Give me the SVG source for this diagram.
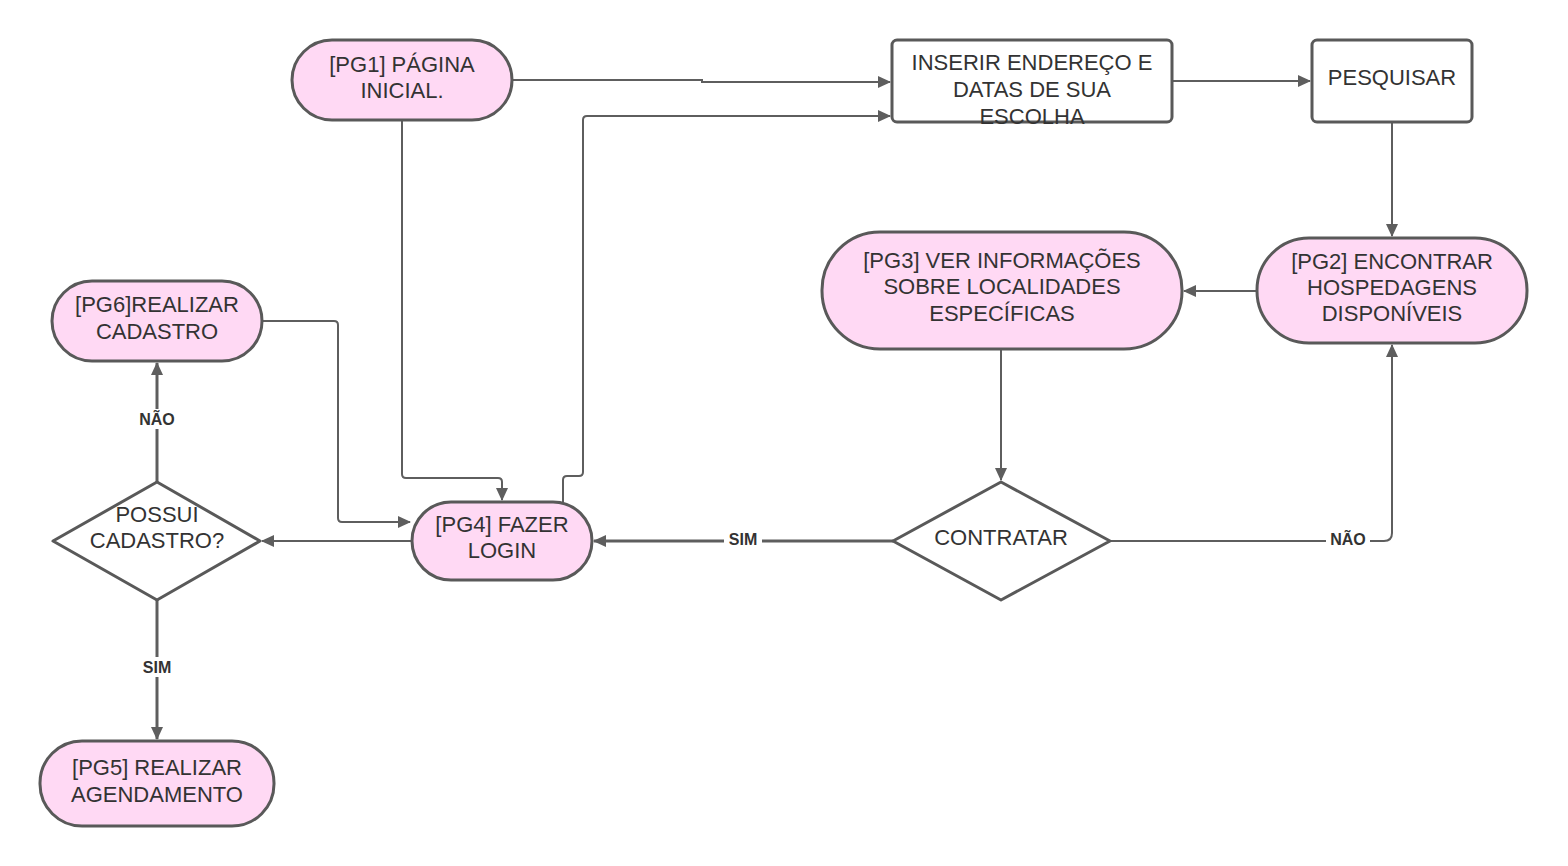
<svg xmlns="http://www.w3.org/2000/svg" width="1568" height="866" viewBox="0 0 1568 866">
<style>
.pill{fill:#ffd9f4;stroke:#595959;stroke-width:3}
.box{fill:#ffffff;stroke:#595959;stroke-width:3}
.t{font-family:"Liberation Sans",Arial,sans-serif;font-size:22px;fill:#333333;text-anchor:middle}
.c{fill:none;stroke:#5e5e5e;stroke-width:2;marker-end:url(#ah)}
.lbl{font-family:"Liberation Sans",Arial,sans-serif;font-size:16px;font-weight:bold;fill:#333333;text-anchor:middle}
.bg{fill:#ffffff}
</style>
<defs>
<marker id="ah" markerWidth="13" markerHeight="12" refX="12" refY="6" orient="auto" markerUnits="userSpaceOnUse">
<path d="M0,0 L13,6 L0,12 z" fill="#5e5e5e"/>
</marker>
</defs>
<rect width="1568" height="866" fill="#ffffff"/>
<g id="connectors">
<path class="c" d="M512 80 H702 V82 H890"/>
<path class="c" d="M402 120 V474 Q402 478 406 478 H498 Q502 478 502 482 V500"/>
<path class="c" d="M563 502 V480 Q563 476 567 476 H579 Q583 476 583 472 V120 Q583 116 587 116 H890"/>
<path class="c" d="M1172 81 H1310"/>
<path class="c" d="M1392 122 V236"/>
<path class="c" d="M1257 291 H1184"/>
<path class="c" d="M1001 349 V480"/>
<path class="c" style="stroke-width:3" d="M893 541 H594"/>
<path class="c" d="M1110 541 H1384 Q1392 541 1392 533 V345"/>
<path class="c" d="M412 541 H262"/>
<path class="c" style="stroke-width:3" d="M157 482 V363"/>
<path class="c" style="stroke-width:3" d="M157 600 V739"/>
<path class="c" d="M262 321 H334 Q338 321 338 325 V518 Q338 522 342 522 H410"/>
<rect class="bg" x="724" y="530" width="38" height="20"/>
<text class="lbl" x="743" y="545">SIM</text>
<rect class="bg" x="1326" y="529" width="44" height="20"/>
<text class="lbl" x="1348" y="545">NÃO</text>
<rect class="bg" x="134" y="409" width="46" height="20"/>
<text class="lbl" x="157" y="425">NÃO</text>
<rect class="bg" x="138" y="657" width="38" height="20"/>
<text class="lbl" x="157" y="673">SIM</text>
</g>
<g id="pg1">
<rect class="pill" x="292" y="40" width="220" height="80" rx="40"/>
<text class="t" x="402" y="72">[PG1] PÁGINA</text>
<text class="t" x="402" y="98">INICIAL.</text>
</g>
<g id="inserir">
<rect class="box" x="892" y="40" width="280" height="82" rx="5"/>
<text class="t" x="1032" y="70">INSERIR ENDEREÇO E</text>
<text class="t" x="1032" y="97">DATAS DE SUA</text>
<text class="t" x="1032" y="124">ESCOLHA</text>
</g>
<g id="pesquisar">
<rect class="box" x="1312" y="40" width="160" height="82" rx="5"/>
<text class="t" x="1392" y="85">PESQUISAR</text>
</g>
<g id="pg2">
<rect class="pill" x="1257" y="238" width="270" height="105" rx="52"/>
<text class="t" x="1392" y="269">[PG2] ENCONTRAR</text>
<text class="t" x="1392" y="295">HOSPEDAGENS</text>
<text class="t" x="1392" y="321">DISPONÍVEIS</text>
</g>
<g id="pg3">
<rect class="pill" x="822" y="232" width="360" height="117" rx="58"/>
<text class="t" x="1002" y="268">[PG3] VER INFORMAÇÕES</text>
<text class="t" x="1002" y="294">SOBRE LOCALIDADES</text>
<text class="t" x="1002" y="321">ESPECÍFICAS</text>
</g>
<g id="contratar">
<path class="box" d="M1001 482 L1110 541 L1001 600 L893 541 Z" stroke-linejoin="round"/>
<text class="t" x="1001" y="545">CONTRATAR</text>
</g>
<g id="pg4">
<rect class="pill" x="412" y="502" width="180" height="78" rx="39"/>
<text class="t" x="502" y="532">[PG4] FAZER</text>
<text class="t" x="502" y="558">LOGIN</text>
</g>
<g id="possui">
<path class="box" d="M157 482 L260 541 L157 600 L53 541 Z" stroke-linejoin="round"/>
<text class="t" x="157" y="522">POSSUI</text>
<text class="t" x="157" y="548">CADASTRO?</text>
</g>
<g id="pg6">
<rect class="pill" x="52" y="281" width="210" height="80" rx="40"/>
<text class="t" x="157" y="312">[PG6]REALIZAR</text>
<text class="t" x="157" y="339">CADASTRO</text>
</g>
<g id="pg5">
<rect class="pill" x="40" y="741" width="234" height="85" rx="42"/>
<text class="t" x="157" y="775">[PG5] REALIZAR</text>
<text class="t" x="157" y="802">AGENDAMENTO</text>
</g>
</svg>
